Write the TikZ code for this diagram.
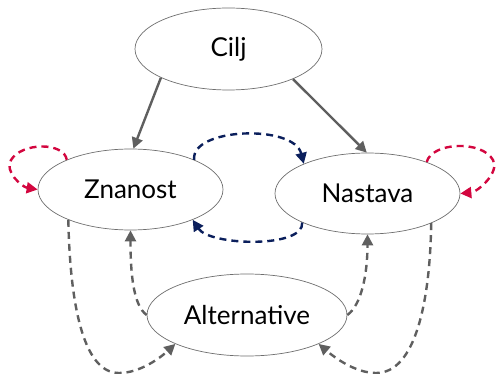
\documentclass[tikz,border=0pt]{standalone}
\usepackage{fontspec}
\setmainfont{Lato}
\usetikzlibrary{arrows.meta,shapes.geometric}
\definecolor{arrowgray}{HTML}{5F5F5F}
\definecolor{rimgray}{HTML}{6E6E6E}
\definecolor{navy}{HTML}{0B1F5C}
\definecolor{crimson}{HTML}{D3063F}
\tikzset{
  state/.style={ellipse, draw=rimgray, line width=0.7pt, fill=white, inner sep=0pt,
    font=\fontsize{26}{30}\selectfont},
  tip/.style={-{Triangle[length=11pt,width=11pt]}},
  solidlink/.style={tip, draw=arrowgray, line width=2.4pt},
  dashlink/.style={tip, line width=2.4pt, dash pattern=on 7pt off 5pt},
  graylink/.style={dashlink, draw=arrowgray},
  bluelink/.style={dashlink, draw=navy},
  redlink/.style={dashlink, draw=crimson},
}
\begin{document}
\begin{tikzpicture}[x=1pt,y=-1pt]
\useasboundingbox (0,0) rectangle (498,374);

\node[state, minimum width=187pt, minimum height=82pt] (cilj) at (228.5,49) {Cilj};
\node[state, minimum width=185pt, minimum height=81pt] (zn) at (130.5,189.5) {Znanost};
\node[state, minimum width=185pt, minimum height=81pt] (na) at (367.5,193.5) {Nastava};
\node[state, minimum width=200pt, minimum height=82pt] (alt) at (247,315) {Alternative};

% goal to both activities
\draw[solidlink] (cilj.203.6) -- (zn.86.6);
\draw[solidlink] (cilj.335.8) -- (na.91);

% exchange between Znanost and Nastava
\draw[bluelink] (zn.25) .. controls +(-4,-32) and +(-10,-40) .. (na.155);
\draw[bluelink] (na.204) .. controls +(2,26) and +(17,26) .. (zn.334);

% self loops
\draw[redlink] (zn.155) .. controls (64,142) and (22,142) .. (11,160)
  .. controls (4,171.5) and (22,187) .. (zn.west);
\draw[redlink] (na.28) .. controls (432,142) and (482,140) .. (493,160)
  .. controls (500,172) and (478,192) .. (na.east);

% alternatives feeding back
\draw[graylink] (alt.west) .. controls +(-14,-10) and +(0,40) .. (zn.270);
\draw[graylink] (alt.east) .. controls +(14,-10) and +(0,40) .. (na.270);

% activities leading to alternatives
\draw[graylink] (zn.206) .. controls (70,300) and (82,373) .. (119,373)
  .. controls (140,373) and (160,358) .. (alt.202.6);
\draw[graylink] (na.335.4) .. controls (430,300) and (416,373) .. (376,373)
  .. controls (355,373) and (334,357) .. (alt.338);
\end{tikzpicture}
\end{document}
